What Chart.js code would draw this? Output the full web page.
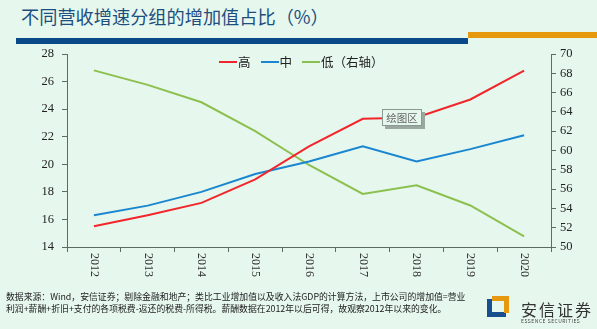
<!DOCTYPE html>
<html>
<head>
<meta charset="utf-8">
<script src="https://cdn.jsdelivr.net/npm/chart.js@4/dist/chart.umd.min.js"></script>
<style>
  html, body { margin: 0; padding: 0; }
  body { width: 597px; height: 329px; background: #e6f7ee; position: relative; overflow: hidden;
         font-family: "Noto Sans CJK SC", "Noto Sans", sans-serif; }
  #title { position: absolute; left: 21px; top: 3px; font-size: 18.2px; color: #1d4e7e; }
  #barBlue { position: absolute; left: 16px; top: 38px; width: 452px; height: 6px; background: #0a4a8a; }
  #barOrange { position: absolute; left: 468px; top: 32px; width: 129px; height: 6px; background: #e6980f; }
  #mygrafico { position: absolute; left: 0; top: 0; }
  #legend { position: absolute; top: 52px; left: 219px; font-size: 12.5px; color: #222; display: flex; gap: 10px; }
  #legend span { display: flex; align-items: center; }
  #legend i { display: inline-block; width: 18px; height: 2px; margin-right: 1px; }
  #tip { position: absolute; left: 382px; top: 109px; width: 38px; height: 15px; border: 1px solid #8a9a92;
         background: #e6f7ee; box-shadow: 3px 3px 0 #9aa8a0; font-size: 10.5px; color: #666; text-align: center; line-height: 15px; }
  #source { position: absolute; left: 6px; top: 291px; font-size: 8.85px; line-height: 12px; color: #222; white-space: nowrap; }
  #logo { position: absolute; left: 487px; top: 296px; width: 22px; height: 21px; }
  #logo .b { position: absolute; left: 0; top: 3px; width: 14px; height: 13px; border-left: 5px solid #1a4f8f; border-bottom: 5px solid #1a4f8f; }
  #logo .o { position: absolute; left: 5px; top: 0; width: 12px; height: 12px; border-top: 5px solid #e6980f; border-right: 5px solid #e6980f; }
  #brand { position: absolute; left: 521px; top: 297px; font-size: 16px; color: #333; letter-spacing: 2px; }
  #brandEn { position: absolute; left: 521px; top: 317px; font-size: 5px; color: #444; letter-spacing: 0.5px; }
</style>
</head>
<body>
<div id="title">不同营收增速分组的增加值占比（%）</div>
<div id="barBlue"></div>
<div id="barOrange"></div>
<canvas id="mygrafico" width="597" height="329"></canvas>
<div id="legend">
  <span><i style="background:#f2262a"></i>高</span>
  <span><i style="background:#1a86d0"></i>中</span>
  <span><i style="background:#8cc04e"></i>低（右轴）</span>
</div>
<div id="tip">绘图区</div>
<div id="source">数据来源：Wind，安信证券；剔除金融和地产；类比工业增加值以及收入法GDP的计算方法，上市公司的增加值=营业<br>利润+薪酬+折旧+支付的各项税费-返还的税费-所得税。薪酬数据在2012年以后可得，故观察2012年以来的变化。</div>
<div id="logo"><div class="b"></div><div class="o"></div></div>
<div id="brand">安信证券</div>
<div id="brandEn">ESSENCE SECURITIES</div>
<script>
const years = ["2012", "2013", "2014", "2015", "2016", "2017", "2018", "2019", "2020"];
const alto = [15.5, 16.3, 17.2, 18.9, 21.3, 23.3, 23.4, 24.7, 26.8];
const medio = [16.3, 17.0, 18.0, 19.3, 20.2, 21.3, 20.2, 21.1, 22.1];
const baixo = [68.3, 66.8, 65.0, 62.0, 58.5, 55.5, 56.4, 54.3, 51.1];

const serif = "'Liberation Serif', 'DejaVu Serif', serif";
const axisColor = "#5d6b62";

// rotated year labels (read top to bottom)
const yearLabels = {
  id: "yearLabels",
  afterDraw(chart) {
    const x = chart.scales.x;
    const ctx = chart.ctx;
    ctx.save();
    ctx.font = "12px " + serif;
    ctx.fillStyle = "#333";
    ctx.textAlign = "left";
    ctx.textBaseline = "middle";
    years.forEach((y, i) => {
      ctx.save();
      ctx.translate(x.getPixelForValue(i), x.top + 6);
      ctx.rotate(Math.PI / 2);
      ctx.fillText(y, 0, 0);
      ctx.restore();
    });
    ctx.restore();
  },
};

const config = {
  type: "line",
  data: {
    labels: years,
    datasets: [
      { label: "高", data: alto, borderColor: "#f2262a", backgroundColor: "#f2262a", borderWidth: 2, pointRadius: 0, yAxisID: "y" },
      { label: "中", data: medio, borderColor: "#1a86d0", backgroundColor: "#1a86d0", borderWidth: 2, pointRadius: 0, yAxisID: "y" },
      { label: "低（右轴）", data: baixo, borderColor: "#8cc04e", backgroundColor: "#8cc04e", borderWidth: 2, pointRadius: 0, yAxisID: "y1" },
    ],
  },
  options: {
    responsive: false,
    animation: false,
    layout: { padding: { top: 54, left: 0, right: 0, bottom: 0 } },
    plugins: { legend: { display: false }, tooltip: { enabled: false } },
    scales: {
      x: {
        offset: true,
        grid: { offset: true, drawOnChartArea: false, tickLength: 5, color: axisColor },
        border: { color: axisColor, width: 1 },
        ticks: { display: false },
        afterFit: (s) => { s.height = 82; },
      },
      y: {
        position: "left",
        min: 14,
        max: 28,
        ticks: { stepSize: 2, font: { family: serif, size: 12.5 }, color: "#222", padding: 8 },
        grid: { drawOnChartArea: false, tickLength: 5, color: axisColor },
        border: { color: axisColor, width: 1 },
        afterFit: (s) => { s.width = 67; },
      },
      y1: {
        position: "right",
        min: 50,
        max: 70,
        ticks: { stepSize: 2, font: { family: serif, size: 12.5 }, color: "#222", padding: 4 },
        grid: { drawOnChartArea: false, tickLength: 5, color: axisColor },
        border: { color: axisColor, width: 1 },
        afterFit: (s) => { s.width = 46; },
      },
    },
  },
  plugins: [yearLabels],
};

const myChart = new Chart(document.getElementById("mygrafico"), config);
</script>
</body>
</html>
